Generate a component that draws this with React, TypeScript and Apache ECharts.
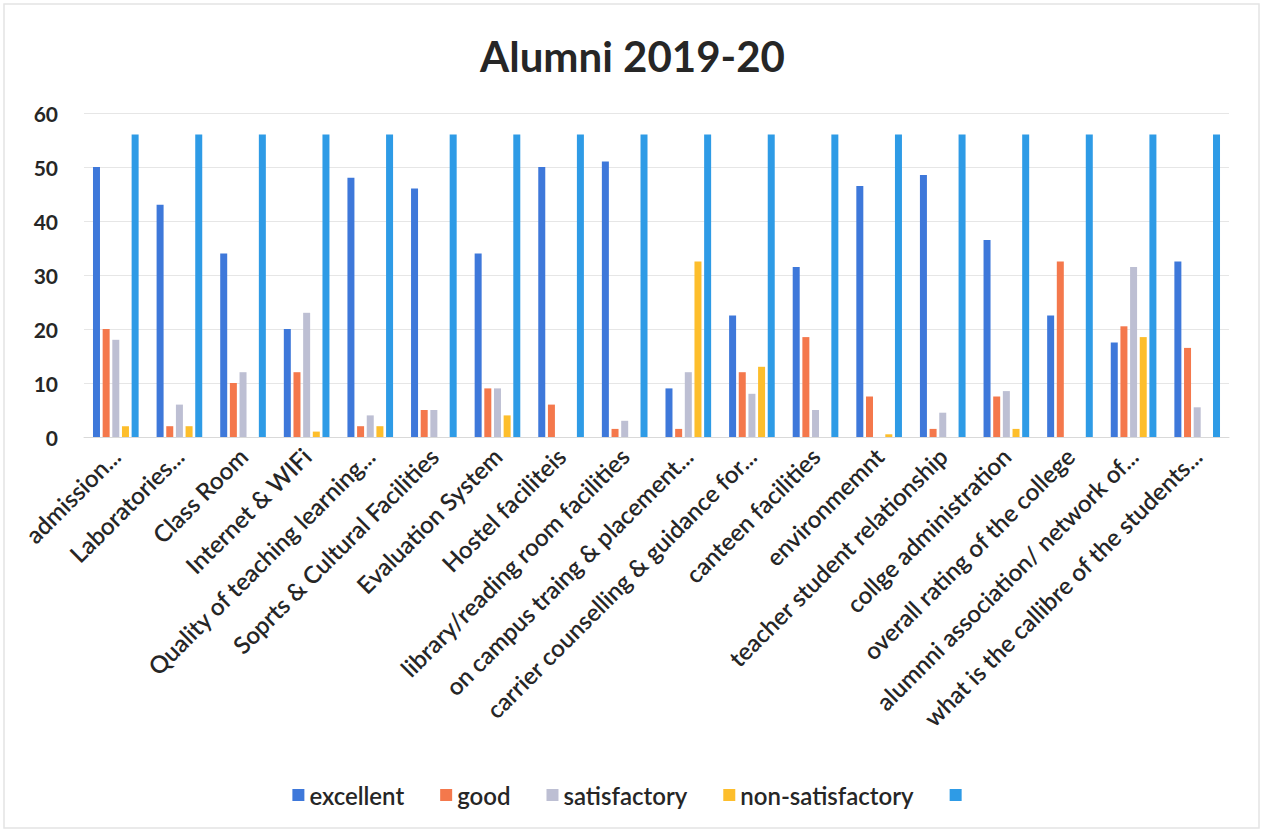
import React, { useEffect, useRef } from "react";
import * as echarts from "echarts";

const categories = [
  "admission...",
  "Laboratories...",
  "Class Room",
  "Internet & WIFi",
  "Quality of teaching learning...",
  "Soprts & Cultural Facilities",
  "Evaluation System",
  "Hostel faciliteis",
  "library/reading room facilities",
  "on campus traing & placement...",
  "carrier counselling & guidance for...",
  "canteen facilities",
  "environmemnt",
  "teacher student relationship",
  "collge administration",
  "overall rating of the college",
  "alumnni association/ network of...",
  "what is the callibre of the students...",
];

const excellent = [50, 43, 34, 20, 48, 46, 34, 50, 51, 9, 22.5, 31.5, 46.5, 48.5, 36.5, 22.5, 17.5, 32.5];
const good = [20, 2, 10, 12, 2, 5, 9, 6, 1.5, 1.5, 12, 18.5, 7.5, 1.5, 7.5, 32.5, 20.5, 16.5];
const satisfactory = [18, 6, 12, 23, 4, 5, 9, 0, 3, 12, 8, 5, 0, 4.5, 8.5, 0, 31.5, 5.5];
const nonSatisfactory = [2, 2, 0, 1, 2, 0, 4, 0, 0, 32.5, 13, 0, 0.5, 0, 1.5, 0, 18.5, 0];
const total = [56, 56, 56, 56, 56, 56, 56, 56, 56, 56, 56, 56, 56, 56, 56, 56, 56, 56];

const seriesNames = ["excellent", "good", "satisfactory", "non-satisfactory", " "];
const seriesColors = ["#3E78DA", "#F4784C", "#BDBFD3", "#FDBE2C", "#2E9BE6"];
const yTicks = { min: 0, max: 60, interval: 10 };

export default function App() {
  const ref = useRef<HTMLDivElement>(null);
  useEffect(() => {
    document.body.style.margin = "0";
    if (!ref.current) return;
    const chart = echarts.init(ref.current, undefined, { renderer: "svg" });
    const data = [excellent, good, satisfactory, nonSatisfactory, total];
    const font = "Lato, 'Open Sans', sans-serif";
    chart.setOption({
      animation: false,
      backgroundColor: "#ffffff",
      textStyle: { fontFamily: font },
      title: {
        text: "Alumni 2019-20",
        left: "center",
        top: 30,
        textStyle: { fontSize: 42, fontWeight: "bold", color: "#262626", fontFamily: font },
      },
      graphic: [
        {
          type: "rect",
          shape: { x: 4, y: 4, width: 1255, height: 824 },
          style: { fill: "none", stroke: "#e4e4e4", lineWidth: 1.5 },
          silent: true,
        },
      ],
      legend: {
        bottom: 21,
        left: "center",
        itemWidth: 12,
        itemHeight: 12,
        itemGap: 36,
        icon: "rect",
        data: seriesNames,
        textStyle: { fontSize: 24, color: "#262626", fontFamily: font, fontWeight: 600 },
      },
      grid: { left: 84, right: 36, top: 113, bottom: 396, containLabel: false },
      xAxis: {
        type: "category",
        data: categories,
        axisTick: { show: false },
        axisLine: { lineStyle: { color: "#d9d9d9" } },
        axisLabel: {
          rotate: 45,
          interval: 0,
          fontSize: 24,
          fontWeight: 600,
          color: "#262626",
          fontFamily: font,
          margin: 15,
        },
      },
      yAxis: {
        type: "value",
        min: yTicks.min,
        max: yTicks.max,
        interval: yTicks.interval,
        axisLine: { show: false },
        axisTick: { show: false },
        splitLine: { lineStyle: { color: "#e6e6e6" } },
        axisLabel: { fontSize: 21, fontWeight: "bold", color: "#262626", fontFamily: font, margin: 26 },
      },
      series: data.map((d, i) => ({
        name: seriesNames[i],
        type: "bar",
        data: d,
        barWidth: 7,
        barGap: "38%",
        itemStyle: { color: seriesColors[i] },
      })),
    });
    return () => chart.dispose();
  }, []);
  return <div ref={ref} style={{ width: 1265, height: 833 }} />;
}
